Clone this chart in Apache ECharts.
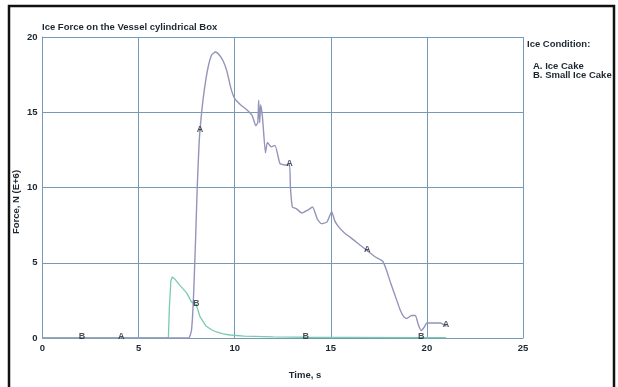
<!DOCTYPE html>
<html>
<head>
<meta charset="utf-8">
<script src="https://cdn.jsdelivr.net/npm/echarts@6/dist/echarts.min.js"></script>
<style>
  html, body { margin: 0; padding: 0; background: #ffffff; }
  #chart { width: 618px; height: 387px; }
</style>
</head>
<body>
<div id="chart"></div>
<script>
// Time (s) and force (N, E+6) samples for each ice condition
const iceCakeTime = [0, 4.1, 7.6, 7.75, 7.85, 7.95, 8.05, 8.15, 8.25, 8.4, 8.6, 8.8, 9.0, 9.2, 9.4, 9.6, 9.8, 10.0, 10.3, 10.6, 10.9, 11.1, 11.2, 11.25, 11.3, 11.35, 11.45, 11.6, 11.7, 11.9, 12.1, 12.35, 12.6, 12.85, 12.9, 13.0, 13.2, 13.5, 13.8, 14.05, 14.3, 14.5, 14.8, 15.05, 15.2, 15.4, 15.7, 16.0, 16.4, 16.9, 17.3, 17.7, 17.9, 18.1, 18.35, 18.6, 18.8, 18.95, 19.2, 19.4, 19.55, 19.7, 19.85, 20.0, 20.4, 20.7, 21.0];
const iceCakeForce = [0, 0, 0, 0.5, 2.5, 6, 10, 13, 14.6, 16.3, 17.9, 18.8, 19.0, 18.8, 18.4, 17.7, 16.6, 15.9, 15.5, 15.2, 14.8, 14.1, 14.3, 15.8, 14.3, 15.5, 14.6, 12.3, 13.0, 12.7, 12.8, 11.6, 11.5, 11.5, 10.0, 8.7, 8.6, 8.3, 8.5, 8.7, 7.9, 7.6, 7.7, 8.4, 7.8, 7.4, 7.0, 6.7, 6.3, 5.8, 5.4, 5.1, 4.5, 3.7, 2.8, 1.9, 1.4, 1.3, 1.5, 1.5, 0.9, 0.5, 0.7, 1.0, 1.0, 1.0, 0.8];

const smallCakeTime = [0, 2.05, 6.55, 6.6, 6.68, 6.75, 6.9, 7.15, 7.5, 7.75, 8.0, 8.2, 8.5, 8.8, 9.05, 9.4, 9.75, 10.5, 12, 13.7, 16, 19.7, 21];
const smallCakeForce = [0, 0, 0, 2, 3.8, 4.05, 3.9, 3.5, 3.0, 2.4, 2.2, 1.4, 0.8, 0.55, 0.4, 0.28, 0.2, 0.12, 0.08, 0.05, 0.04, 0.03, 0.03];

// Times where the letter symbols sit on each curve
const iceCakeMarks = [4.1, 8.2, 12.85, 16.9, 21.0];
const smallCakeMarks = [2.05, 8.0, 13.7, 19.7];

// Axis ticks
const timeTicks = [0, 5, 10, 15, 20, 25];
const forceTicks = [0, 5, 10, 15, 20];

function pairs(xs, ys) { return xs.map((x, i) => [x, ys[i]]); }
function valueAt(xs, ys, t) {
  for (let i = 1; i < xs.length; i++) {
    if (t <= xs[i]) {
      const f = (t - xs[i - 1]) / (xs[i] - xs[i - 1]);
      return ys[i - 1] + f * (ys[i] - ys[i - 1]);
    }
  }
  return ys[ys.length - 1];
}

const chart = echarts.init(document.getElementById('chart'), null, { renderer: 'canvas' });
const gridColor = '#7699b8';
const inkColor = '#1b2733';
const fontFamily = '"Liberation Sans", Arial, sans-serif';
const textFont = 'bold 9.5px ' + fontFamily;

function letterSeries(name, times, xs, ys, letter) {
  return {
    name: name,
    type: 'scatter',
    data: times.map(t => [t, valueAt(xs, ys, t)]),
    symbol: 'circle',
    symbolSize: 1,
    itemStyle: { color: inkColor },
    label: {
      show: true, position: 'inside', formatter: letter, offset: [0, -1],
      color: inkColor, fontWeight: 'bold', fontSize: 9, fontFamily: fontFamily
    },
    z: 5,
    silent: true
  };
}

chart.setOption({
  backgroundColor: '#ffffff',
  animation: false,
  grid: { left: 42.5, right: 95, top: 37, bottom: 49 },
  xAxis: {
    type: 'value',
    min: timeTicks[0], max: timeTicks[timeTicks.length - 1], interval: 5,
    axisLine: { show: true, lineStyle: { color: gridColor, width: 1 } },
    axisTick: { show: false },
    splitLine: { show: true, lineStyle: { color: gridColor, width: 1 } },
    axisLabel: { color: inkColor, fontWeight: 'bold', fontSize: 9.5, fontFamily: fontFamily, margin: 5 }
  },
  yAxis: {
    type: 'value',
    min: forceTicks[0], max: forceTicks[forceTicks.length - 1], interval: 5,
    axisLine: { show: true, lineStyle: { color: gridColor, width: 1 } },
    axisTick: { show: false },
    splitLine: { show: true, lineStyle: { color: gridColor, width: 1 } },
    axisLabel: { color: inkColor, fontWeight: 'bold', fontSize: 9.5, fontFamily: fontFamily, margin: 5 }
  },
  series: [
    {
      name: 'B. Small Ice Cake',
      type: 'line',
      data: pairs(smallCakeTime, smallCakeForce),
      showSymbol: false,
      lineStyle: { color: '#7acbae', width: 1.3 },
      z: 3
    },
    {
      name: 'A. Ice Cake',
      type: 'line',
      data: pairs(iceCakeTime, iceCakeForce),
      showSymbol: false,
      smooth: 0.15,
      lineStyle: { color: '#9494ba', width: 1.4 },
      z: 4
    },
    letterSeries('A marks', iceCakeMarks, iceCakeTime, iceCakeForce, 'A'),
    letterSeries('B marks', smallCakeMarks, smallCakeTime, smallCakeForce, 'B')
  ],
  graphic: [
    {
      type: 'text', left: 42, top: 22,
      style: { text: 'Ice Force on the Vessel cylindrical Box', fill: inkColor, font: textFont }
    },
    {
      type: 'text', x: 16, y: 202, rotation: Math.PI / 2,
      style: { text: 'Force, N (E+6)', fill: inkColor, font: textFont, align: 'center', verticalAlign: 'middle' }
    },
    {
      type: 'text', x: 305, y: 375,
      style: { text: 'Time, s', fill: inkColor, font: textFont, align: 'center', verticalAlign: 'middle' }
    },
    {
      type: 'text', x: 527, y: 44,
      style: { text: 'Ice Condition:', fill: inkColor, font: textFont, verticalAlign: 'middle' }
    },
    {
      type: 'text', x: 533, y: 66,
      style: { text: 'A. Ice Cake', fill: inkColor, font: textFont, verticalAlign: 'middle' }
    },
    {
      type: 'text', x: 533, y: 75,
      style: { text: 'B. Small Ice Cake', fill: inkColor, font: textFont, verticalAlign: 'middle' }
    },
    {
      type: 'rect', shape: { x: 9, y: 6, width: 605, height: 390 },
      style: { fill: 'none', stroke: '#111111', lineWidth: 2.5 }, z: 100
    }
  ]
});
</script>
</body>
</html>
